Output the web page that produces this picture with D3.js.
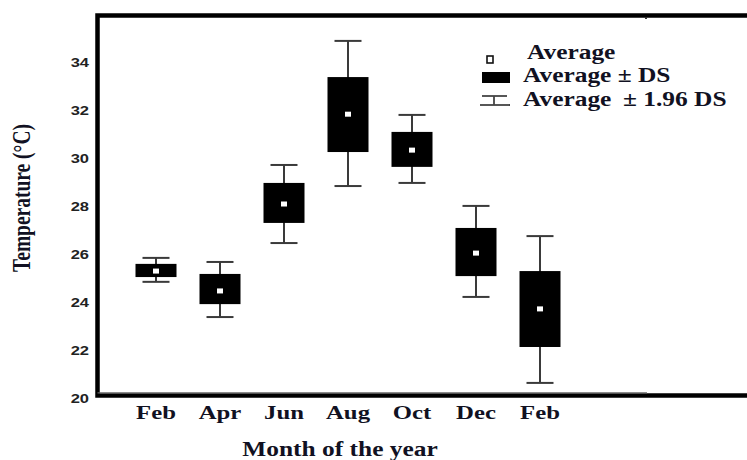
<!DOCTYPE html>
<html>
<head>
<meta charset="utf-8">
<script src="https://cdn.jsdelivr.net/npm/d3@7"></script>
<style>
  html, body { margin: 0; padding: 0; background: #fff; }
  svg { display: block; }
</style>
</head>
<body>
<div id="chart"></div>
<script>
// ---- data ----
const months = ['Feb', 'Apr', 'Jun', 'Aug', 'Oct', 'Dec', 'Feb'];
const means  = [25.30, 24.47, 28.10, 31.85, 30.35, 26.05, 23.72];
const sdLow  = [25.05, 23.92, 27.31, 30.27, 29.65, 25.09, 22.13];
const sdHigh = [25.60, 25.18, 28.98, 33.40, 31.11, 27.10, 25.30];
const ciLow  = [24.85, 23.38, 26.47, 28.85, 28.98, 24.22, 20.63];
const ciHigh = [25.85, 25.68, 29.73, 34.91, 31.82, 28.02, 26.76];
const yTicks = [20, 22, 24, 26, 28, 30, 32, 34];
const legendItems = ['Average', 'Average \u00b1 DS', 'Average'];
const xTitle = 'Month of the year';
const yTitle = 'Temperature (\u00b0C)';

// ---- layout ----
const W = 747, H = 460;
const SX = 1.27; // horizontal stretch of the source picture
const serif = "'Liberation Serif', 'Times New Roman', serif";
const sans = "'Liberation Sans', Arial, sans-serif";
const txtCol = '#111122';

const svg = d3.select('#chart').append('svg')
  .attr('width', W).attr('height', H);

const x = d3.scalePoint().domain(d3.range(months.length)).range([156, 540]);
const y = d3.scaleLinear().domain([20, 36]).range([398, 14.8]);

function stext(g, px, py, str, size, anchor, family, weight, col) {
  return g.append('text')
    .attr('transform', `translate(${px},${py}) scale(${SX},1)`)
    .attr('text-anchor', anchor)
    .attr('font-family', family)
    .attr('font-weight', weight)
    .attr('font-size', size)
    .attr('fill', col)
    .text(str);
}

// frame
const frameLeft = 97.5, frameTop = 15.5, frameBottom = 395.5;
svg.append('rect')
  .attr('x', frameLeft).attr('y', frameTop)
  .attr('width', 800).attr('height', frameBottom - frameTop)
  .attr('fill', 'none').attr('stroke', '#000').attr('stroke-width', 4.5);
svg.append('line')
  .attr('x1', frameLeft).attr('x2', 647)
  .attr('y1', 392.8).attr('y2', 392.8)
  .attr('stroke', '#666').attr('stroke-width', 1.2);
svg.append('rect').attr('x', 645).attr('y', 17).attr('width', 2).attr('height', 2).attr('fill', '#333');

// y tick labels
const gy = svg.append('g');
yTicks.forEach(t => {
  stext(gy, 89, y(t) + 4.7, t, 13, 'end', sans, 'bold', '#222');
});

// x tick labels
const gx = svg.append('g');
months.forEach((m, i) => {
  stext(gx, x(i), 419, m, 19.5, 'middle', serif, 'bold', txtCol);
});

// axis titles
stext(svg, 340, 456, xTitle, 20, 'middle', serif, 'bold', txtCol);
svg.append('text')
  .attr('transform', `translate(30,198) scale(${SX},1) rotate(-90)`)
  .attr('text-anchor', 'middle')
  .attr('font-family', serif).attr('font-weight', 'bold')
  .attr('font-size', 19.5).attr('fill', txtCol)
  .text(yTitle);

// boxes
const boxW = 41, capW = 27;
const gb = svg.append('g');
const idx = d3.range(months.length);
// whiskers
gb.selectAll('line.wh').data(idx).join('line').attr('class', 'wh')
  .attr('x1', i => x(i)).attr('x2', i => x(i))
  .attr('y1', i => y(ciHigh[i])).attr('y2', i => y(ciLow[i]))
  .attr('stroke', '#3a3a3a').attr('stroke-width', 2);
gb.selectAll('line.ct').data(idx).join('line').attr('class', 'ct')
  .attr('x1', i => x(i) - capW / 2).attr('x2', i => x(i) + capW / 2)
  .attr('y1', i => y(ciHigh[i])).attr('y2', i => y(ciHigh[i]))
  .attr('stroke', '#3a3a3a').attr('stroke-width', 2);
gb.selectAll('line.cb').data(idx).join('line').attr('class', 'cb')
  .attr('x1', i => x(i) - capW / 2).attr('x2', i => x(i) + capW / 2)
  .attr('y1', i => y(ciLow[i])).attr('y2', i => y(ciLow[i]))
  .attr('stroke', '#3a3a3a').attr('stroke-width', 2);
// sd boxes
gb.selectAll('rect.bx').data(idx).join('rect').attr('class', 'bx')
  .attr('x', i => x(i) - boxW / 2).attr('width', boxW)
  .attr('y', i => y(sdHigh[i])).attr('height', i => y(sdLow[i]) - y(sdHigh[i]))
  .attr('fill', '#000');
// mean markers
gb.selectAll('rect.mn').data(idx).join('rect').attr('class', 'mn')
  .attr('x', i => x(i) - 3).attr('width', 6)
  .attr('y', i => y(means[i]) - 2.5).attr('height', 5)
  .attr('fill', '#fff');

// legend
const gl = svg.append('g');
gl.append('rect').attr('x', 487).attr('y', 56).attr('width', 6).attr('height', 7)
  .attr('fill', '#fff').attr('stroke', '#111').attr('stroke-width', 1.6);
gl.append('rect').attr('x', 482).attr('y', 72).attr('width', 28).attr('height', 11).attr('fill', '#000');
gl.append('line').attr('x1', 482).attr('x2', 507).attr('y1', 96).attr('y2', 96).attr('stroke', '#444').attr('stroke-width', 1.8);
gl.append('line').attr('x1', 480).attr('x2', 510).attr('y1', 105).attr('y2', 105).attr('stroke', '#444').attr('stroke-width', 1.8);
gl.append('line').attr('x1', 494).attr('x2', 494).attr('y1', 96).attr('y2', 105).attr('stroke', '#444').attr('stroke-width', 1.8);
stext(gl, 527, 59, legendItems[0], 20, 'start', serif, 'bold', txtCol);
stext(gl, 523, 82, legendItems[1], 20, 'start', serif, 'bold', txtCol);
stext(gl, 523, 106, legendItems[2], 20, 'start', serif, 'bold', txtCol);
stext(gl, 623, 106, '\u00b1 1.96 DS', 20, 'start', serif, 'bold', txtCol);
</script>
</body>
</html>
